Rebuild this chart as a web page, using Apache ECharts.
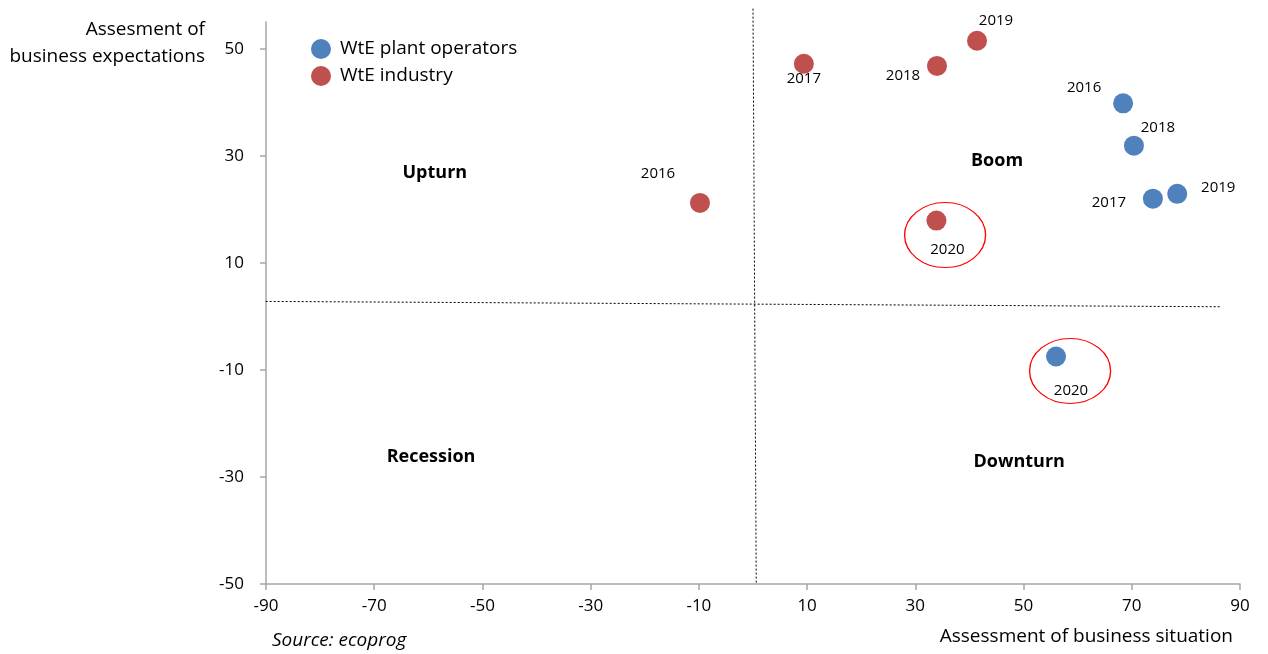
<!DOCTYPE html>
<html>
<head>
<meta charset="utf-8">
<script src="https://cdn.jsdelivr.net/npm/echarts@6/dist/echarts.min.js"></script>
<style>
  html, body { margin: 0; padding: 0; background: #fff; }
  #chart { width: 1268px; height: 654px; }
</style>
</head>
<body>
<div id="chart"></div>
<script>
// Assessment of business situation (x) vs. expectations (y)
const years = ['2016', '2017', '2018', '2019', '2020'];
const operatorsX = [68.4, 73.9, 70.4, 78.4, 56.0];
const operatorsY = [39.8, 22.0, 31.9, 22.9, -7.5];
const industryX = [-9.8, 9.4, 34.0, 41.4, 33.9];
const industryY = [21.2, 47.2, 46.8, 51.5, 17.9];

// highlighted 2020 points (ellipse centres)
const highlightX = [35.5, 58.6];
const highlightY = [15.2, -10.2];

// quadrant names
const quadrantNames = ['Upturn', 'Boom', 'Recession', 'Downturn'];
const quadrantX = [-58.8, 45.1, -59.5, 49.2];
const quadrantY = [26.8, 29.1, -26.3, -27.2];

// dotted cross lines (hand-drawn in the original, slightly tilted)
const hLineX = [-90.8, 86.5];
const hLineY = [2.8, 1.8];
const vLineX = [0.0, 0.6];
const vLineY = [57.5, -50];

const xTicks = [-90, 90, 20];
const yTickValues = [-50, -30, -10, 10, 30, 50];

const FONT = 'Open Sans, sans-serif';
const BLUE = '#4f81bd';
const RED = '#c0504d';

// label offsets per year, [dx, dy] in pixels
const operatorsLabelOffset = [[-39, -16], [-44, 4], [24, -18], [41, -6], [15, 34]];
const industryLabelOffset = [[-42, -29], [0, 15], [-34, 10], [19, -20], [11, 29]];

function pointsWithLabels(xs, ys, offsets) {
  return xs.map((x, i) => ({
    value: [x, ys[i]],
    name: years[i],
    label: { offset: offsets[i] }
  }));
}

const yearLabel = {
  show: true,
  position: 'inside',
  formatter: p => p.name,
  color: '#000',
  opacity: 1,
  fontFamily: FONT,
  fontSize: 15
};

const chart = echarts.init(document.getElementById('chart'));

chart.setOption({
  animation: false,
  grid: { left: 266, right: 28, top: 22, bottom: 70 },
  legend: {
    data: ['WtE plant operators', 'WtE industry'],
    orient: 'vertical',
    left: 306,
    top: 34,
    icon: 'circle',
    itemWidth: 20,
    itemHeight: 20,
    itemGap: 7,
    textStyle: { fontFamily: FONT, fontSize: 19, color: '#000', padding: [0, 0, 0, 4] }
  },
  xAxis: {
    type: 'value',
    min: xTicks[0],
    max: xTicks[1],
    interval: xTicks[2],
    axisLine: { onZero: false, lineStyle: { color: '#a6a6a6', width: 1.5 } },
    axisTick: { show: true, length: 6, lineStyle: { color: '#a6a6a6', width: 1.5 } },
    axisLabel: { margin: 14, fontFamily: FONT, fontSize: 17, color: '#000' },
    splitLine: { show: false }
  },
  yAxis: {
    type: 'value',
    min: -50,
    max: 55,
    axisLine: { onZero: false, lineStyle: { color: '#a6a6a6', width: 1.5 } },
    axisTick: { show: true, length: 6, customValues: yTickValues, lineStyle: { color: '#a6a6a6', width: 1.5 } },
    axisLabel: { margin: 22, customValues: yTickValues, fontFamily: FONT, fontSize: 17, color: '#000' },
    splitLine: { show: false }
  },
  graphic: [
    {
      type: 'text',
      right: 1268 - 205,
      top: 20,
      style: { text: 'Assesment of', font: '19px ' + FONT, fill: '#000' }
    },
    {
      type: 'text',
      right: 1268 - 205,
      top: 47,
      style: { text: 'business expectations', font: '19px ' + FONT, fill: '#000' }
    },
    {
      type: 'text',
      right: 1268 - 1233,
      top: 627,
      style: { text: 'Assessment of business situation', font: '19px ' + FONT, fill: '#000' }
    },
    {
      type: 'text',
      left: 272,
      top: 631,
      style: { text: 'Source: ecoprog', font: 'italic 19px ' + FONT, fill: '#000' }
    }
  ],
  series: [
    {
      type: 'line',
      silent: true,
      clip: false,
      symbol: 'none',
      data: hLineX.map((x, i) => [x, hLineY[i]]),
      lineStyle: { color: '#000', width: 1, type: [2, 2] },
      z: 1
    },
    {
      type: 'line',
      silent: true,
      clip: false,
      symbol: 'none',
      data: vLineX.map((x, i) => [x, vLineY[i]]),
      lineStyle: { color: '#000', width: 1, type: [2, 2] },
      z: 1
    },
    {
      type: 'scatter',
      silent: true,
      symbol: 'circle',
      symbolSize: [81, 65],
      data: highlightX.map((x, i) => [x, highlightY[i]]),
      itemStyle: { color: 'rgba(0,0,0,0)', borderColor: '#ff0000', borderWidth: 1.2, opacity: 1 },
      z: 1
    },
    {
      name: 'WtE plant operators',
      type: 'scatter',
      symbolSize: 20,
      itemStyle: { color: BLUE, opacity: 1 },
      label: yearLabel,
      data: pointsWithLabels(operatorsX, operatorsY, operatorsLabelOffset),
      z: 3
    },
    {
      name: 'WtE industry',
      type: 'scatter',
      symbolSize: 20,
      itemStyle: { color: RED, opacity: 1 },
      label: yearLabel,
      data: pointsWithLabels(industryX, industryY, industryLabelOffset),
      z: 3
    },
    {
      type: 'scatter',
      silent: true,
      symbolSize: 0,
      itemStyle: { opacity: 1 },
      data: quadrantX.map((x, i) => ({ value: [x, quadrantY[i]], name: quadrantNames[i] })),
      label: {
        show: true,
        position: 'inside',
        formatter: p => p.name,
        color: '#000',
        opacity: 1,
        fontFamily: FONT,
        fontWeight: 'bold',
        fontSize: 18
      },
      z: 2
    }
  ]
});
</script>
</body>
</html>
